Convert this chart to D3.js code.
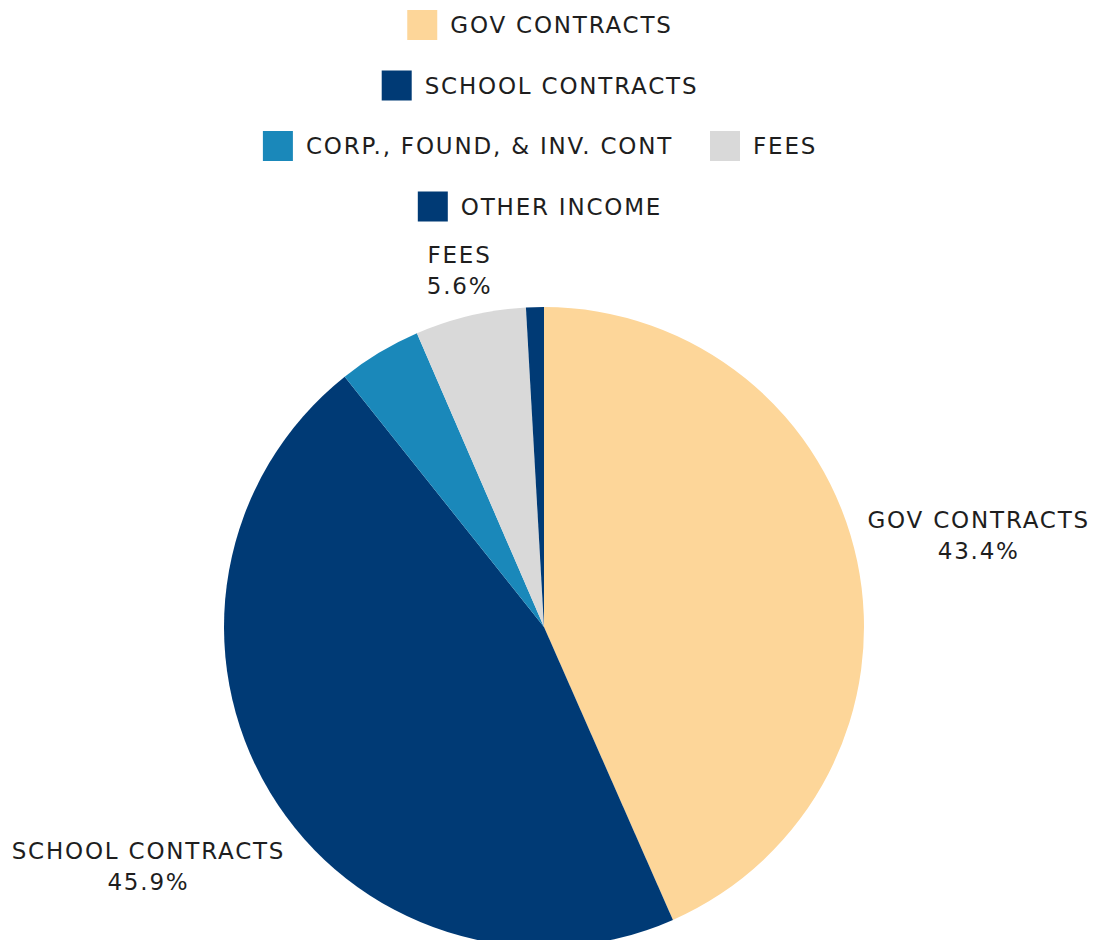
<!DOCTYPE html>
<html lang="en">
<head>
<meta charset="UTF-8">
<title>Income Pie</title>
<script src="https://cdn.jsdelivr.net/npm/d3@7"></script>
<style>
    body {
        margin: 0;
        padding: 0;
        background: #ffffff;
    }
    svg text {
        font-family: "DejaVu Sans", sans-serif;
        fill: #1e1e1e;
        letter-spacing: 1.8px;
    }
</style>
</head>
<body>
<div id="chart"></div>
<script>
    // data
    const categories = ["GOV CONTRACTS", "SCHOOL CONTRACTS", "CORP., FOUND, & INV. CONT", "FEES", "OTHER INCOME"];
    const values = [43.4, 45.9, 4.2, 5.6, 0.9];
    const colors = ["#fdd699", "#003a75", "#1a88ba", "#d9d9d9", "#003a75"];

    const w = 1098;
    const h = 940;
    const fontSize = 23;

    const svg = d3.select("#chart")
        .append("svg")
        .attr("width", w)
        .attr("height", h);

    const color = d3.scaleOrdinal().domain(categories).range(colors);

    // legend, wrapped into centred rows
    const swatch = 30;
    const swatchGap = 13;
    const itemGap = 37;
    const maxRow = 580;
    const rowStep = 60.5;
    const firstRow = 25;
    const legendCx = 540;

    const legend = svg.append("g").attr("class", "legend");
    const items = categories.map((c) => {
        const g = legend.append("g");
        g.append("rect")
            .attr("width", swatch)
            .attr("height", swatch)
            .attr("y", -swatch / 2)
            .attr("fill", color(c));
        const t = g.append("text")
            .attr("x", swatch + swatchGap)
            .attr("dy", "0.35em")
            .style("font-size", fontSize + "px")
            .text(c);
        return { g: g, width: swatch + swatchGap + t.node().getComputedTextLength() };
    });

    let rows = [];
    let current = [];
    let curW = 0;
    items.forEach((it) => {
        const add = current.length ? itemGap + it.width : it.width;
        if (current.length && curW + add > maxRow) {
            rows.push({ items: current, width: curW });
            current = [it];
            curW = it.width;
        } else {
            current.push(it);
            curW += add;
        }
    });
    rows.push({ items: current, width: curW });

    rows.forEach((row, ri) => {
        let x = legendCx - row.width / 2;
        row.items.forEach((it) => {
            it.g.attr("transform", `translate(${x}, ${firstRow + ri * rowStep})`);
            x += it.width + itemGap;
        });
    });

    // pie
    const cx = 544;
    const cy = 627;
    const r = 320;

    const pie = d3.pie().sort(null).value((d) => d.value);
    const arc = d3.arc().innerRadius(0).outerRadius(r);
    const arcs = pie(categories.map((c, i) => ({ name: c, value: values[i] })));

    const g = svg.append("g").attr("transform", `translate(${cx}, ${cy})`);

    g.selectAll("path")
        .data(arcs)
        .enter()
        .append("path")
        .attr("d", arc)
        .attr("fill", (d) => color(d.data.name));

    // outside labels for slices of 5% or more
    const lineH = 31;
    const labels = g.selectAll(".slice-label")
        .data(arcs.filter((d) => d.data.value >= 5))
        .enter()
        .append("text")
        .attr("class", "slice-label")
        .attr("text-anchor", "middle")
        .style("font-size", fontSize + "px");

    labels.append("tspan").attr("x", 0).attr("dy", "-0.32em").text((d) => d.data.name);
    labels.append("tspan").attr("x", 0).attr("dy", lineH).text((d) => d3.format(".1f")(d.data.value) + "%");

    labels.attr("transform", function (d) {
        const bw = this.getBBox().width;
        const bh = 62;
        const a = (d.startAngle + d.endAngle) / 2;
        const s = Math.sin(a);
        const c = Math.cos(a);
        const dist = r + 9 + Math.abs(s) * bw / 2 + Math.abs(c) * bh / 2;
        return `translate(${dist * s}, ${-dist * c})`;
    });
</script>
</body>
</html>
